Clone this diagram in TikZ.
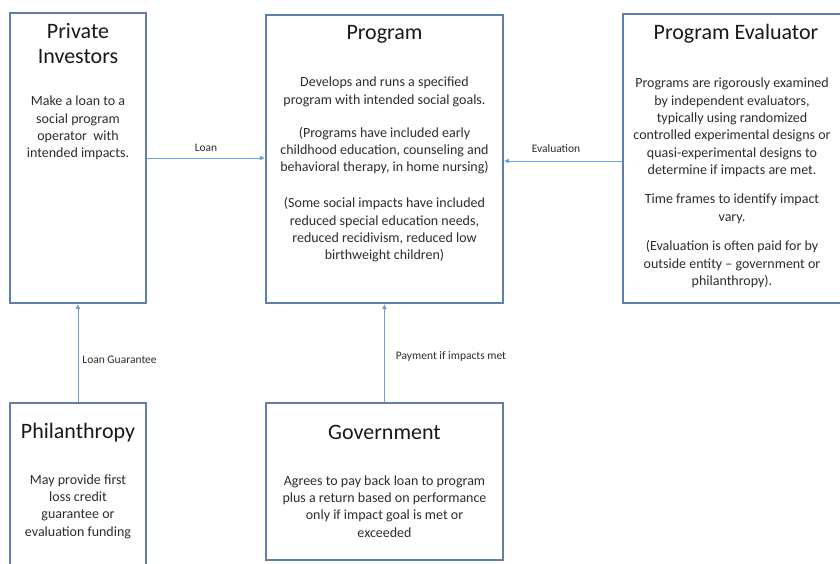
\documentclass[tikz,border=0pt]{standalone}
\usepackage{fontspec}
\setmainfont{Carlito}
\usetikzlibrary{arrows.meta,calc}
\definecolor{boxblue}{RGB}{96,128,170}
\definecolor{linkblue}{RGB}{110,160,220}
\definecolor{txt}{RGB}{45,45,45}
\tikzset{
  card/.style={draw=boxblue, line width=2.4pt, fill=white, rectangle, inner sep=0pt},
  ttl/.style={font=\fontsize{22}{25}\selectfont, text=black!90, align=center, inner sep=0pt},
  body/.style={font=\fontsize{14}{17.3}\selectfont, text=txt, align=center, inner sep=0pt},
  conn/.style={draw=linkblue, line width=0.9pt, -{Triangle[length=5pt,width=4.5pt]}},
  lbl/.style={font=\fontsize{11.5}{13}\selectfont, text=txt, inner sep=0pt}
}
\begin{document}
\begin{tikzpicture}[x=1pt,y=-1pt]
\useasboundingbox (0,0) rectangle (840,563);
\clip (0,0) rectangle (840,563);
\fill[white] (0,0) rectangle (840,563);

% boxes
\node[card, minimum width=136pt, minimum height=290pt] (inv) at (78,158) {};
\node[card, minimum width=237pt, minimum height=288pt] (prog) at (384.5,159) {};
\node[card, minimum width=218pt, minimum height=289pt] (eval) at (732,158.5) {};
\node[card, minimum width=136pt, minimum height=197pt] (phil) at (78,501.5) {};
\node[card, minimum width=237pt, minimum height=157pt] (gov) at (384.5,481.5) {};

% titles
\node[ttl] (invT) at (78,43.5) {Private\\Investors};
\node[ttl] (progT) at (384.5,34) {Program};
\node[ttl] (evalT) at (736,34) {Program Evaluator};
\node[ttl] (philT) at (78,433) {Philanthropy};
\node[ttl] (govT) at (384.5,432) {Government};

% bodies
\node[body] (invB) at (78,128) {Make a loan to a\\social program\\operator\ \ with\\intended impacts.};
\node[body] (progB) at (384.5,169.5) {Develops and runs a specified\\program with intended social goals.\\[16pt]
(Programs have included early\\childhood education, counseling and\\behavioral therapy, in home nursing)\\[18.5pt]
(Some social impacts have included\\reduced special education needs,\\reduced recidivism, reduced low\\birthweight children)};
\node[body] (evalB) at (732,183) {Programs are rigorously examined\\by independent\ evaluators,\\typically using randomized\\controlled experimental designs or\\quasi-experimental designs to\\determine if impacts are met.\\[12pt]
Time frames to identify impact\\vary.\\[12.5pt]
(Evaluation is often paid for by\\outside entity -- government\ or\\philanthropy).};
\node[body] (philB) at (78,506.5) {May provide first\\loss credit\\guarantee or\\evaluation funding};
\node[body] (govB) at (384.5,506.5) {Agrees to pay back loan to program\\plus a return based on performance\\only if impact\ goal is met or\\exceeded};

% connectors
\draw[conn] (inv.east) -- node[lbl, midway, above=6pt] {Loan} (inv.east -| prog.west);
\draw[conn] ([yshift=-2.5pt]eval.west) -- node[lbl, midway, above=8pt, xshift=-7pt] {Evaluation} ([yshift=-2.5pt]eval.west -| prog.east);
\draw[conn] (phil.north) -- node[lbl, midway, right=4pt, yshift=-7pt] {Loan Guarantee} (phil.north |- inv.south);
\draw[conn] (gov.north) -- node[lbl, midway, right=11pt, yshift=-3pt] {Payment if impacts met} (gov.north |- prog.south);
\end{tikzpicture}
\end{document}
